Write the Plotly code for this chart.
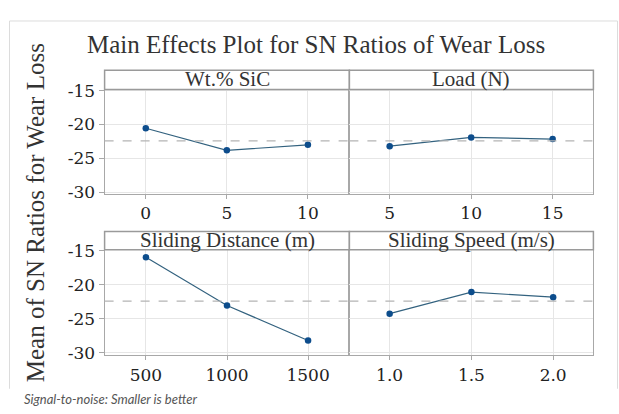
import plotly.graph_objects as go

# Factor levels and mean S/N ratios (dB) for each factor
wt_levels = [0, 5, 10]
wt_sn = [-20.55, -23.8, -23.0]

load_levels = [5, 10, 15]
load_sn = [-23.2, -21.9, -22.15]

dist_levels = [500, 1000, 1500]
dist_sn = [-15.98, -23.03, -28.17]

speed_levels = [1.0, 1.5, 2.0]
speed_sn = [-24.24, -21.07, -21.82]

panel_titles = ["Wt.% SiC", "Load (N)", "Sliding Distance (m)", "Sliding Speed (m/s)"]
y_ticks = [-15, -20, -25, -30]
y_tick_text = ["-15", "-20", "-25", "-30"]

W, H = 619, 414
SERIF = "Liberation Serif, Times New Roman, serif"
TICK_FONT = dict(family="DejaVu Serif", size=17, color="#222")
GRID = "#e6e6e6"
FRAME = "#a8a8a8"
LINE_C = "#33627f"
MARK_C = "#0d4d8c"


def px(x):
    return x / W


def py(y):
    return 1 - y / H


# panel geometry (pixels)
x_left, x_mid, x_right = 104.6, 349.4, 593.4
rows = [  # (strip top, strip bottom/data top, data bottom)
    (64.0, 84.0, 193.0),
    (232.0, 251.0, 361.0),
]

series = [
    (wt_levels, wt_sn, [-2.54, 12.56], [0, 5, 10], ["0", "5", "10"]),
    (load_levels, load_sn, [2.53, 17.5], [5, 10, 15], ["5", "10", "15"]),
    (dist_levels, dist_sn, [245, 1755], [500, 1000, 1500], ["500", "1000", "1500"]),
    (speed_levels, speed_sn, [0.754, 2.246], [1.0, 1.5, 2.0], ["1.0", "1.5", "2.0"]),
]

all_vals = wt_sn + load_sn + dist_sn + speed_sn
grand_mean = sum(all_vals) / len(all_vals)

fig = go.Figure()
layout = {}
shapes = []
annotations = []

for i, (xs, ys, xr, tv, tt) in enumerate(series):
    r, c = divmod(i, 2)
    n = "" if i == 0 else str(i + 1)
    s_top, d_top, d_bot = rows[r]
    x0 = x_left if c == 0 else x_mid
    x1 = x_mid if c == 0 else x_right
    yr = [-30.25, -14.85] if r == 0 else [-30.32, -14.86]

    fig.add_trace(go.Scatter(
        x=xs, y=ys, mode="lines+markers",
        line=dict(color=LINE_C, width=1.2),
        marker=dict(color=MARK_C, size=6.5),
        xaxis="x" + n, yaxis="y" + n, showlegend=False,
        hoverinfo="x+y",
    ))

    layout["xaxis" + n] = dict(
        domain=[px(x0), px(x1)], range=xr, anchor="y" + n,
        tickvals=tv, ticktext=tt, showgrid=True, gridcolor=GRID, gridwidth=1,
        zeroline=False, showline=True, linecolor=FRAME, linewidth=1, mirror=True,
        ticks="outside", ticklen=4, tickcolor=FRAME,
        tickfont=TICK_FONT, fixedrange=True,
    )
    layout["yaxis" + n] = dict(
        domain=[py(d_bot), py(d_top)], range=yr, anchor="x" + n,
        tickvals=y_ticks, ticktext=y_tick_text,
        showgrid=True, gridcolor=GRID, gridwidth=1,
        zeroline=False, showline=True, linecolor=FRAME, linewidth=1, mirror=True,
        showticklabels=(c == 0), ticks="outside" if c == 0 else "",
        ticklen=5, tickcolor=FRAME,
        tickfont=TICK_FONT, fixedrange=True,
    )

    # reference line at the overall mean
    shapes.append(dict(
        type="line", xref="x" + n + " domain", yref="y" + n,
        x0=0, x1=1, y0=grand_mean, y1=grand_mean,
        line=dict(color="#b4b4b4", width=1.2, dash="dash"),
    ))

    # header strip
    shapes.append(dict(
        type="rect", xref="paper", yref="paper",
        x0=px(x0), x1=px(x1), y0=py(d_top), y1=py(s_top),
        line=dict(color="#9a9a9a", width=1.5), fillcolor="white", layer="above",
    ))
    annotations.append(dict(
        text=panel_titles[i], xref="paper", yref="paper",
        x=px((x0 + x1) / 2), y=py((s_top + d_top) / 2 - 0.5),
        xanchor="center", yanchor="middle", showarrow=False,
        font=dict(family=SERIF, size=21, color="#333"),
    ))

# outer frame
shapes.append(dict(
    type="path", xref="paper", yref="paper",
    path=f"M {px(9.5)},{py(396)} L {px(9.5)},{py(12.5)} L {px(617.5)},{py(12.5)} L {px(617.5)},{py(396)}",
    line=dict(color="#dcdcdc", width=1),
))

annotations += [
    dict(text="Main Effects Plot for SN Ratios of Wear Loss", xref="paper", yref="paper",
         x=px(316), y=py(37), xanchor="center", yanchor="middle", showarrow=False,
         font=dict(family=SERIF, size=25, color="#333")),
    dict(text="Mean of SN Ratios for Wear Loss", xref="paper", yref="paper",
         x=px(35), y=py(213), xanchor="center", yanchor="middle", showarrow=False,
         textangle=-90, font=dict(family=SERIF, size=25, color="#333")),
    dict(text="<i>Signal-to-noise: Smaller is better</i>", xref="paper", yref="paper",
         x=px(22), y=py(407), xanchor="left", yanchor="middle", showarrow=False,
         font=dict(family="Lato", size=13, color="#555")),
]

fig.update_layout(
    width=W, height=H, margin=dict(l=0, r=0, t=0, b=0),
    paper_bgcolor="white", plot_bgcolor="white",
    font=dict(family=SERIF, color="#222"),
    shapes=shapes, annotations=annotations, **layout,
)

fig.write_html("out.html")
